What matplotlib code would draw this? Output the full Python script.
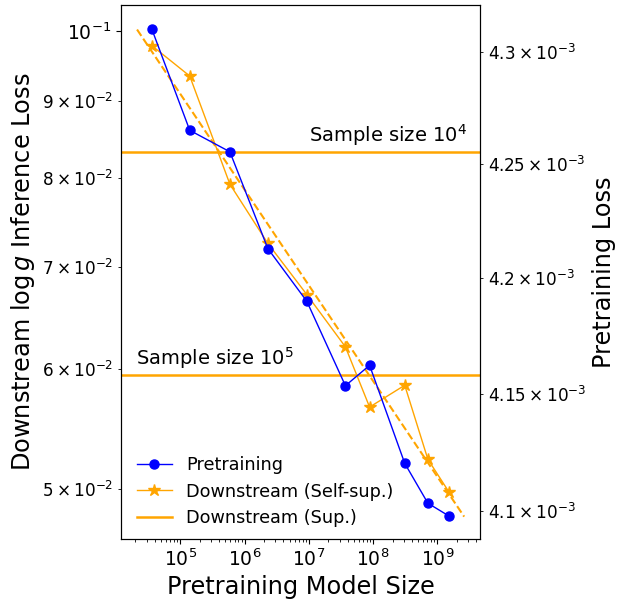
import numpy as np
import matplotlib
matplotlib.use("Agg")
import matplotlib.pyplot as plt

# model sizes (x)
model_size = [3.6e4, 1.4e5, 5.9e5, 2.3e6, 9.3e6, 3.7e7, 8.8e7, 3.1e8, 7.1e8, 1.5e9]
# pretraining loss (right axis)
pretrain_loss = [4.310e-3, 4.265e-3, 4.2555e-3, 4.213e-3, 4.190e-3,
                 4.1535e-3, 4.1623e-3, 4.1202e-3, 4.1032e-3, 4.0978e-3]
# downstream self-supervised inference loss (left axis)
selfsup_loss = [0.0978, 0.0934, 0.0793, 0.0725, 0.0671,
                0.0620, 0.0566, 0.0585, 0.0523, 0.0498]
# supervised baselines
sup_sizes = ["10^4", "10^5"]
sup_loss = [0.0833, 0.0594]

fig, ax = plt.subplots(figsize=(6.17, 6.01), dpi=100)
ax2 = ax.twinx()

# power-law fit of the self-supervised curve
lx = np.log10(model_size)
slope, icpt = np.polyfit(lx, np.log10(selfsup_loss), 1)
xf = np.logspace(lx.min() - 0.23, lx.max() + 0.24, 50)
ax.plot(xf, 10 ** (icpt + slope * np.log10(xf)), "--", color="orange", lw=1.5)

l1, = ax2.plot(model_size, pretrain_loss, "o-", color="blue", lw=1, ms=6.5,
               label="Pretraining")
l2, = ax.plot(model_size, selfsup_loss, "*-", color="orange", lw=1, ms=9,
              label="Downstream (Self-sup.)")
l3 = None
for s, v in zip(sup_sizes, sup_loss):
    l3 = ax.axhline(v, color="orange", lw=1.8, label="Downstream (Sup.)")

ax.annotate("Sample size $" + sup_sizes[0] + "$", (1e7, sup_loss[0]),
            xytext=(0, 3), textcoords="offset points", fontsize=14,
            va="bottom", ha="left")
ax.annotate("Sample size $" + sup_sizes[1] + "$", (2.05e4, sup_loss[1]),
            xytext=(0, 3), textcoords="offset points", fontsize=14,
            va="bottom", ha="left")

ax.set_xscale("log")
ax.set_yscale("log")
ax2.set_yscale("log")
ax.set_xlim(1.19e4, 4.6e9)
ax.set_ylim(0.04636, 0.1040)
ax2.set_ylim(4.088e-3, 4.3208e-3)

ax.set_xlabel("Pretraining Model Size", fontsize=17.3, labelpad=3.5)
ax.set_ylabel(r"Downstream $\log g$ Inference Loss", fontsize=17.3)
ax2.set_ylabel("Pretraining Loss", fontsize=17.3)
for a in (ax, ax2):
    a.tick_params(axis="both", which="major", labelsize=13.5)
    a.tick_params(axis="both", which="minor", labelsize=12.2)

ax.legend([l1, l2, l3], [l1.get_label(), l2.get_label(), l3.get_label()],
          loc="lower left", frameon=False, fontsize=12.7,
          bbox_to_anchor=(0, -0.008))

fig.subplots_adjust(left=0.196, right=0.778, top=0.9917, bottom=0.1032)
fig.savefig("out.png", dpi=100)
